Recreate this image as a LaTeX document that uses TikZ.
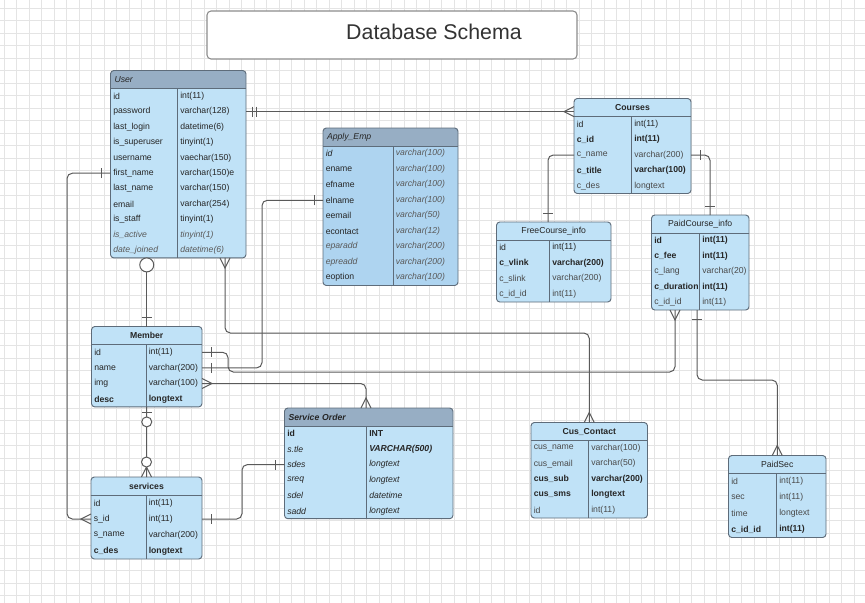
\documentclass[tikz,border=0pt]{standalone}
\usepackage{fontspec}
\setmainfont{Liberation Sans}
\usetikzlibrary{fit,calc}

\definecolor{cbody}{HTML}{C0E2F7}
\definecolor{capply}{HTML}{AED4F0}
\definecolor{chead}{HTML}{97AEC4}
\definecolor{cedge}{HTML}{5E6C7A}
\definecolor{cink}{HTML}{262626}
\definecolor{cgray}{HTML}{4A4A4A}
\definecolor{cslant}{HTML}{5A5A5A}
\definecolor{cwire}{HTML}{5A5A5A}
\definecolor{cgrid}{HTML}{E4E4E4}

% ER line ends, drawn with the entity at the origin, line leaving along +x
\tikzset{
  erone/.pic={\draw[wire] (9,-5) -- (9,5);},
  ertwo/.pic={\draw[wire] (6,-5) -- (6,5) (10,-5) -- (10,5);},
  ermany/.pic={\draw[wire] (0,-5) -- (10,0) -- (0,5);},
  ercircle/.pic={\draw[wire,fill=white] (7,0) circle (7);},
  erzeroone/.pic={\draw[wire] (6,-5) -- (6,5); \draw[wire,fill=white] (15,0) circle (5);},
  erzeromany/.pic={\draw[wire] (0,-5) -- (10,0) -- (0,5); \draw[wire,fill=white] (15,0) circle (5);}
}

% [opts]{name}{left}{top}{right}{split}{row height}{title}{rows}
\newcommand{\ertable}[9][]{%
  \begin{scope}[#1]
    \foreach \erow [count=\erc] in {#9} {\xdef\errows{\erc}}
    \pgfmathsetmacro\erbot{#4+18+\errows*#7}
    \pgfmathsetmacro\erwd{(#5-#3-8)*0.75}
    \node[tblbody, fit={(#3,#4) (#5,\erbot)}] (#2) {};
    \begin{scope}
      \clip[rounded corners=2.5pt] (#3,#4) rectangle (#5,\erbot);
      \fill[tblhead] (#3,#4) rectangle (#5,#4+18);
    \end{scope}
    \draw[tbledge] (#3,#4+18) -- (#5,#4+18) (#6,#4+18) -- (#6,\erbot);
    \draw[tbledge, rounded corners=2.5pt] (#3,#4) rectangle (#5,\erbot);
    \node[headtext, text width=\erwd pt] (#2-h) at ({(#3+#5)/2},#4+9) {#8};
    \foreach \a/\b/\sa/\sb [count=\i] in {#9} {
      \node[cell, \sa] (#2-l\i) at (#3+2.5, {#4+18+(\i-0.5)*#7}) {\a};
      \node[cell, \sb] (#2-r\i) at (#6+2.5, {#4+18+(\i-0.5)*#7}) {\b};
    }
  \end{scope}
}

\begin{document}
\begin{tikzpicture}[x=0.75pt,y=-0.75pt,
    wire/.style={draw=cwire,line width=0.75pt},
    gridline/.style={draw=cgrid,line width=0.5pt},
    titlebox/.style={draw=black!45,fill=white,rounded corners=3pt,line width=0.8pt,inner sep=0pt},
    tblbody/.style={fill=cbody,rounded corners=2.5pt,inner sep=0pt,outer sep=0pt},
    tblhead/.style={fill=cbody},
    tbledge/.style={draw=cedge,line width=0.7pt},
    headtext/.style={font=\fontsize{6.5}{8}\selectfont,text=cink,align=center,inner sep=0pt},
    darktbl/.style={tblhead/.style={fill=chead},headtext/.append style={align=left}},
    cell/.style={anchor=west,inner sep=0pt,font=\fontsize{6.5}{8}\selectfont},
    txtplain/.style={text=cink},
    txtgray/.style={text=cgray},
    txtbold/.style={text=cink,font=\fontsize{6.5}{8}\selectfont\bfseries},
    txtital/.style={text=cslant,font=\fontsize{6.5}{8}\selectfont\itshape},
    txtitdark/.style={text=cink,font=\fontsize{6.5}{8}\selectfont\itshape},
    txtbolditl/.style={text=cink,font=\fontsize{6.5}{8}\selectfont\bfseries\itshape}
  ]
  \useasboundingbox (0,0) rectangle (865,603);
  \fill[white] (0,0) rectangle (865,603);
  % background grid
  \foreach \gx in {4,16.5,...,865} \draw[gridline] (\gx,0) -- (\gx,603);
  \foreach \gy in {8,20.5,...,603} \draw[gridline] (0,\gy) -- (865,\gy);

  % title
  \node[titlebox, fit={(207,11) (577,59)}] (title) {};
  \node[font=\fontsize{16}{19}\selectfont, text=black!80] (titletext) at (434,32) {Database Schema};

  % tables
  \ertable[darktbl]{user}{110.5}{70.5}{246}{177.5}{15.4}{\itshape User}{
    id/int(11)/txtplain/txtplain, password/varchar(128)/txtplain/txtplain,
    last\_login/datetime(6)/txtplain/txtplain, is\_superuser/tinyint(1)/txtplain/txtplain,
    username/vaechar(150)/txtplain/txtplain, first\_name/varchar(150)e/txtplain/txtplain,
    last\_name/varchar(150)/txtplain/txtplain, email/varchar(254)/txtplain/txtplain,
    is\_staff/tinyint(1)/txtplain/txtplain, is\_active/tinyint(1)/txtital/txtital,
    date\_joined/datetime(6)/txtital/txtital}
  \ertable[darktbl, tblbody/.append style={fill=capply}]{apply}{323}{128}{458}{393}{15.5}{\itshape Apply\_Emp}{
    id/varchar(100)/txtitdark/txtital, ename/varchar(100)/txtplain/txtital,
    efname/varchar(100)/txtplain/txtital, elname/varchar(100)/txtplain/txtital,
    eemail/varchar(50)/txtplain/txtital, econtact/varchar(12)/txtplain/txtital,
    eparadd/varchar(200)/txtital/txtital, epreadd/varchar(200)/txtital/txtital,
    eoption/varchar(100)/txtplain/txtital}
  \ertable{courses}{574}{98.5}{691}{631.5}{15.4}{\bfseries Courses}{
    id/int(11)/txtplain/txtplain, c\_id/int(11)/txtbold/txtbold,
    c\_name/varchar(200)/txtgray/txtgray, c\_title/varchar(100)/txtbold/txtbold,
    c\_des/longtext/txtgray/txtgray}
  \ertable{freec}{496.5}{222}{611}{549.5}{15.5}{FreeCourse\_info}{
    id/int(11)/txtplain/txtplain, c\_vlink/varchar(200)/txtbold/txtbold,
    c\_slink/varchar(200)/txtgray/txtgray, c\_id\_id/int(11)/txtgray/txtgray}
  \ertable{paidc}{651.5}{215}{749}{699.5}{15.4}{PaidCourse\_info}{
    id/int(11)/txtbold/txtbold, c\_fee/int(11)/txtbold/txtbold,
    c\_lang/varchar(20)/txtgray/txtgray, c\_duration/int(11)/txtbold/txtbold,
    c\_id\_id/int(11)/txtgray/txtgray}
  \ertable{member}{91.5}{326.5}{202}{146}{15.6}{\bfseries Member}{
    id/int(11)/txtplain/txtplain, name/varchar(200)/txtplain/txtplain,
    img/varchar(100)/txtplain/txtplain, desc/longtext/txtbold/txtbold}
  \ertable[darktbl]{sorder}{284.5}{408}{453}{366.5}{15.45}{\bfseries\itshape Service Order}{
    id/INT/txtbold/txtbold, s.tle/VARCHAR(500)/txtitdark/txtbolditl,
    sdes/longtext/txtitdark/txtitdark, sreq/longtext/txtitdark/txtitdark,
    sdel/datetime/txtitdark/txtitdark, sadd/longtext/txtitdark/txtitdark}
  \ertable{services}{91}{477}{202}{146}{16}{\bfseries services}{
    id/int(11)/txtplain/txtplain, s\_id/int(11)/txtplain/txtplain,
    s\_name/varchar(200)/txtplain/txtplain, c\_des/longtext/txtbold/txtbold}
  \ertable{cusc}{531}{422.5}{647.5}{588.5}{15.5}{\bfseries Cus\_Contact}{
    cus\_name/varchar(100)/txtgray/txtgray, cus\_email/varchar(50)/txtgray/txtgray,
    cus\_sub/varchar(200)/txtbold/txtbold, cus\_sms/longtext/txtbold/txtbold,
    id/int(11)/txtgray/txtgray}
  \ertable{paidsec}{728.5}{455.5}{826}{776.5}{16}{PaidSec}{
    id/int(11)/txtgray/txtgray, sec/int(11)/txtgray/txtgray,
    time/longtext/txtgray/txtgray, c\_id\_id/int(11)/txtbold/txtbold}

  % relations
  \draw[wire] (user.east |- user-l2) -- (courses.west |- user-l2);
  \draw[wire, rounded corners=4] (courses.west |- courses-l3) -| (548,0 |- freec.north);
  \draw[wire, rounded corners=4] (courses.east |- courses-l3) -| (710,0 |- paidc.north);
  \draw[wire, rounded corners=4] (user.west |- user-l6) -| (67,0 |- services-l2) -- (services.west |- services-l2);
  \draw[wire] (user.south -| member.north) -- (member.north);
  \draw[wire, rounded corners=4] (225,0 |- user.south) -- (225,333) -| (cusc.north);
  \draw[wire, rounded corners=4] (member.east |- member-l1) -| (228,372) -| (675,0 |- paidc.south);
  \draw[wire, rounded corners=4] (member.east |- member-l2) -| (262,0 |- apply-l4) -- (apply.west |- apply-l4);
  \draw[wire, rounded corners=4] (member.east |- member-l3) -| (366,0 |- sorder.north);
  \draw[wire] (member.south) -- (services.north);
  \draw[wire, rounded corners=4] (services.east |- services-l2) -| (242,0 |- sorder-l3) -- (sorder.west |- sorder-l3);
  \draw[wire, rounded corners=4] (697,0 |- paidc.south) -- (697,380) -| (paidsec.north);

  % line ends
  \pic at (user.east |- user-l2) {ertwo};
  \pic[rotate=180] at (courses.west |- user-l2) {ermany};
  \pic[rotate=90] at (548,0 |- freec.north) {erone};
  \pic at (courses.east |- courses-l3) {erone};
  \pic[rotate=90] at (710,0 |- paidc.north) {erone};
  \pic[rotate=180] at (user.west |- user-l6) {erone};
  \pic[rotate=180] at (services.west |- services-l2) {ermany};
  \pic[rotate=-90] at (user.south -| member.north) {ercircle};
  \pic[rotate=90] at (member.north) {erone};
  \pic[rotate=-90] at (225,0 |- user.south) {ermany};
  \pic[rotate=90] at (cusc.north) {ermany};
  \pic at (member.east |- member-l1) {erone};
  \pic[rotate=-90] at (675,0 |- paidc.south) {ermany};
  \pic at (member.east |- member-l2) {erone};
  \pic[rotate=180] at (apply.west |- apply-l4) {erone};
  \pic at (member.east |- member-l3) {ermany};
  \pic[rotate=90] at (366,0 |- sorder.north) {ermany};
  \pic[rotate=-90] at (member.south) {erzeroone};
  \pic[rotate=90] at (services.north) {erzeromany};
  \pic at (services.east |- services-l2) {erone};
  \pic[rotate=180] at (sorder.west |- sorder-l3) {erone};
  \pic[rotate=-90] at (697,0 |- paidc.south) {erone};
  \pic[rotate=90] at (paidsec.north) {ermany};
\end{tikzpicture}
\end{document}
